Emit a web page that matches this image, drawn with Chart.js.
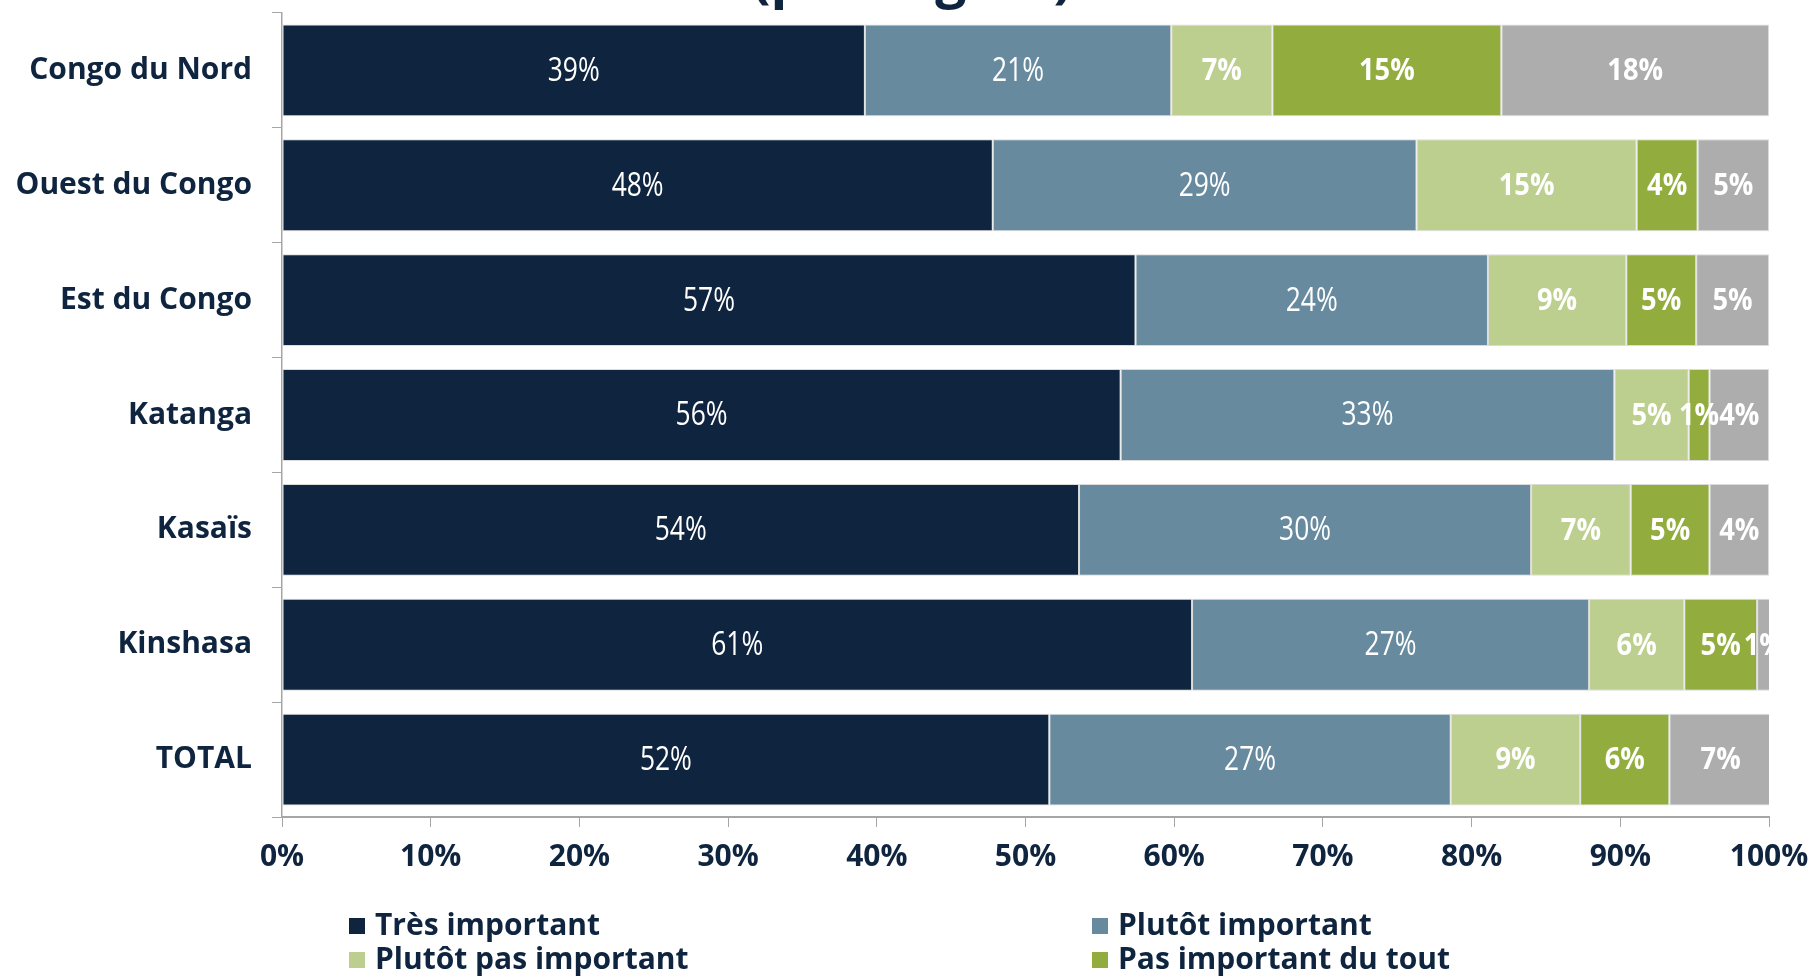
<!DOCTYPE html>
<html>
  <head>
    <meta charset="utf-8" />
    <title>Importance par région</title>
    <style>
      body {
        margin: 0;
        background: #ffffff;
      }

      .chart-container {
        width: 1812px;
        height: 977px;
        position: relative;
      }
    </style>
  </head>
  <body>
    <div class="chart-container">
      <canvas id="regionChart"></canvas>
    </div>

    <script src="https://cdn.jsdelivr.net/npm/chart.js"></script>
    <script>
      // Régions (axe vertical)
      var regions = [
        "Congo du Nord",
        "Ouest du Congo",
        "Est du Congo",
        "Katanga",
        "Kasaïs",
        "Kinshasa",
        "TOTAL",
      ];

      // Pourcentages, une liste par réponse
      var tresImportant = [39.2, 47.8, 57.4, 56.4, 53.6, 61.2, 51.6];
      var plutotImportant = [20.6, 28.5, 23.7, 33.2, 30.4, 26.7, 27.0];
      var plutotPasImportant = [6.8, 14.8, 9.3, 5.0, 6.7, 6.4, 8.7];
      var pasImportantDuTout = [15.4, 4.1, 4.7, 1.4, 5.3, 4.9, 6.0];
      var neSaitPas = [18.0, 4.8, 4.9, 4.0, 4.0, 0.9, 6.9];

      // Graduations de l'axe horizontal
      var graduations = [0, 10, 20, 30, 40, 50, 60, 70, 80, 90, 100];

      var bleuNuit = "#0f243e";
      var gris = "#a6a6a6";
      var police = '"Open Sans", "Noto Sans", sans-serif';

      // Étiquettes blanches au centre de chaque segment
      var etiquettes = {
        id: "etiquettes",
        afterDatasetsDraw: function (chart) {
          var ctx = chart.ctx;
          var zone = chart.chartArea;
          ctx.save();
          ctx.beginPath();
          ctx.rect(zone.left, zone.top, zone.right - zone.left, zone.bottom - zone.top);
          ctx.clip();
          ctx.fillStyle = "#ffffff";
          ctx.textAlign = "center";
          ctx.textBaseline = "middle";
          chart.data.datasets.forEach(function (ds, i) {
            var meta = chart.getDatasetMeta(i);
            var gras = i >= 2;
            ctx.font = (gras ? "700 31px " : "400 33px ") + police;
            meta.data.forEach(function (barre, j) {
              var x = (barre.x + barre.base) / 2;
              ctx.save();
              ctx.translate(x, barre.y + 1);
              ctx.scale(gras ? 0.88 : 0.8, 1);
              ctx.fillText(Math.round(ds.data[j]) + "%", 0, 0);
              ctx.restore();
            });
          });
          ctx.restore();
        },
      };

      // Titre (seul le bas dépasse en haut de l'image)
      var titre = {
        id: "titre",
        afterDraw: function (chart) {
          var ctx = chart.ctx;
          ctx.save();
          ctx.fillStyle = bleuNuit;
          ctx.font = "700 55px " + police;
          ctx.textAlign = "center";
          ctx.textBaseline = "alphabetic";
          ctx.fillText("(par région)", 912, -3);
          ctx.restore();
        },
      };

      // Légende sur deux colonnes
      var legende = {
        id: "legende",
        afterDraw: function (chart) {
          var ctx = chart.ctx;
          var colonnes = [349, 1092];
          ctx.save();
          ctx.font = "700 30px " + police;
          ctx.textAlign = "left";
          ctx.textBaseline = "middle";
          chart.data.datasets.forEach(function (ds, i) {
            var x = colonnes[i % 2];
            var y = 926 + Math.floor(i / 2) * 34;
            ctx.fillStyle = ds.backgroundColor;
            ctx.fillRect(x, y - 8, 16, 16);
            ctx.fillStyle = bleuNuit;
            ctx.fillText(ds.label, x + 26, y);
          });
          ctx.restore();
        },
      };

      function serie(label, data, couleur) {
        return {
          label: label,
          data: data,
          backgroundColor: couleur,
          borderColor: "rgba(215, 215, 215, 0.9)",
          borderWidth: 1,
          borderSkipped: false,
          barPercentage: 0.8,
          categoryPercentage: 1.0,
        };
      }

      new Chart(document.getElementById("regionChart"), {
        type: "bar",
        data: {
          labels: regions,
          datasets: [
            serie("Très important", tresImportant, "#0f243e"),
            serie("Plutôt important", plutotImportant, "#678a9f"),
            serie("Plutôt pas important", plutotPasImportant, "#bdcf8e"),
            serie("Pas important du tout", pasImportantDuTout, "#92ad3e"),
            serie("Ne sait pas", neSaitPas, "#adadae"),
          ],
        },
        options: {
          indexAxis: "y",
          responsive: true,
          maintainAspectRatio: false,
          animation: false,
          layout: {
            padding: { top: 13, right: 43, bottom: 100, left: 0 },
          },
          plugins: {
            legend: { display: false },
            tooltip: { enabled: false },
          },
          scales: {
            x: {
              stacked: true,
              min: 0,
              max: 100,
              afterBuildTicks: function (scale) {
                scale.ticks = graduations.map(function (v) {
                  return { value: v };
                });
              },
              afterFit: function (scale) {
                scale.height = 60;
                scale.paddingLeft = 0;
                scale.paddingRight = 0;
              },
              ticks: {
                padding: 12,
                color: bleuNuit,
                font: { family: police, size: 30, weight: "700" },
                callback: function (v) {
                  return v + "%";
                },
              },
              grid: {
                drawOnChartArea: false,
                tickLength: 10,
                color: gris,
              },
              border: { color: gris, width: 2 },
            },
            y: {
              stacked: true,
              afterFit: function (scale) {
                scale.width = 282;
                scale.paddingTop = 0;
                scale.paddingBottom = 0;
              },
              ticks: {
                padding: 20,
                color: bleuNuit,
                font: { family: police, size: 30, weight: "700" },
              },
              grid: {
                offset: true,
                drawOnChartArea: false,
                tickLength: 10,
                color: gris,
              },
              border: { color: gris, width: 1.5 },
            },
          },
        },
        plugins: [etiquettes, titre, legende],
      });
    </script>
  </body>
</html>
